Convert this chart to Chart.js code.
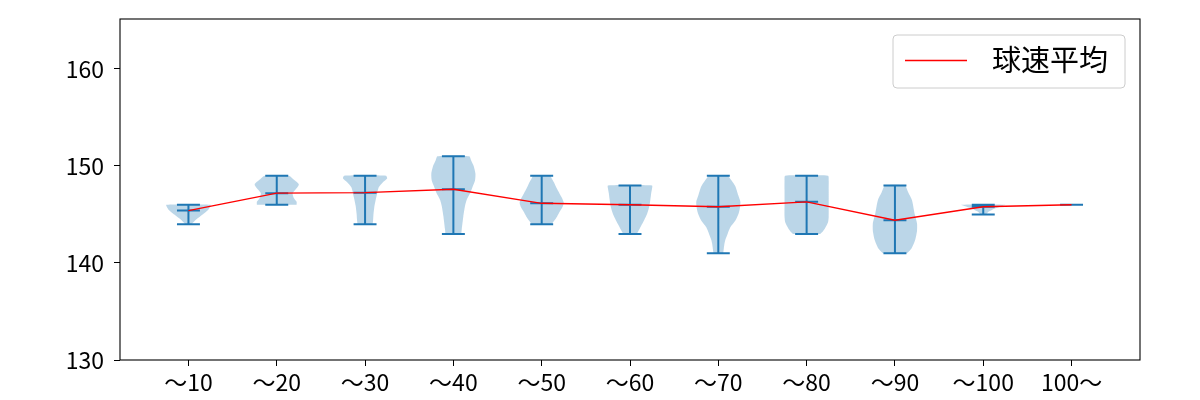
<!DOCTYPE html>
<html>
<head>
<meta charset="utf-8">
<script src="https://cdn.jsdelivr.net/npm/chart.js@4.4.1/dist/chart.umd.min.js"></script>
<style>
  html, body { margin: 0; padding: 0; background: #fff; }
  #wrap { width: 1200px; height: 400px; }
</style>
</head>
<body>
<div id="wrap"><canvas id="violinChart" width="1200" height="400"></canvas></div>
<script>
// ---data---
const categories = ['～10', '～20', '～30', '～40', '～50', '～60', '～70', '～80', '～90', '～100', '100～'];
const positions = [1, 2, 3, 4, 5, 6, 7, 8, 9, 10, 11];
const meanSpeed = [145.4, 147.2, 147.25, 147.6, 146.15, 146.0, 145.8, 146.3, 144.4, 145.8, 146.0];
const minSpeed = [144, 146, 144, 143, 144, 143, 141, 143, 141, 145, 146];
const maxSpeed = [146, 149, 149, 151, 149, 148, 149, 149, 148, 146, 146];
const yTicks = [130, 140, 150, 160];

// violin outlines: speed levels and relative density (1 = widest)
const violinLevels = [
  [144, 144.5, 145, 145.5, 146],
  [146, 146.3, 146.7, 147.2, 147.6, 148.1, 148.6, 149],
  [144, 144.3, 145, 145.8, 146.5, 147.2, 147.8, 148.3, 148.7, 149],
  [143, 143.5, 144.8, 145.8, 146.5, 147.3, 147.9, 148.5, 149.2, 150, 150.6, 151],
  [144, 144.3, 144.8, 145.3, 145.8, 146.2, 146.7, 147.2, 147.7, 148.2, 148.6, 149],
  [143, 143.2, 143.8, 144.4, 145.1, 145.8, 146.5, 147.2, 147.7, 148],
  [141, 141.5, 142, 142.4, 143, 143.7, 144.4, 145.1, 145.7, 146.3, 147, 147.9, 148.5, 149],
  [143, 143.3, 143.6, 144.2, 144.8, 146, 147.5, 148.5, 149],
  [141, 141.5, 142.4, 143.3, 144.1, 145, 146.5, 147.3, 148],
  [145, 145.3, 145.6, 145.8, 146],
  []
];
const violinDensity = [
  [0.14, 0.36, 0.64, 0.9, 1.0],
  [0.9, 0.9, 0.77, 0.72, 0.86, 1.0, 0.77, 0.55],
  [0.34, 0.36, 0.38, 0.42, 0.48, 0.55, 0.62, 0.8, 1.0, 0.95],
  [0.36, 0.38, 0.45, 0.52, 0.6, 0.78, 0.88, 0.98, 1.0, 0.92, 0.8, 0.72],
  [0.45, 0.55, 0.7, 0.82, 0.95, 1.0, 0.92, 0.8, 0.68, 0.58, 0.48, 0.38],
  [0.28, 0.36, 0.5, 0.64, 0.78, 0.87, 0.92, 0.96, 1.0, 1.0],
  [0.22, 0.25, 0.28, 0.32, 0.42, 0.55, 0.78, 0.92, 0.98, 1.0, 0.9, 0.77, 0.6, 0.42],
  [0.62, 0.75, 0.84, 0.97, 1.0, 1.0, 1.0, 1.0, 0.97],
  [0.55, 0.75, 0.92, 1.0, 1.0, 0.9, 0.77, 0.6, 0.45],
  [0.12, 0.25, 0.5, 0.75, 1.0],
  []
];

const HALF_WIDTH = 0.25;
const CAP = 0.13;
const BLUE = '#1f77b4';

Chart.defaults.font.family = '"Noto Sans CJK JP", "Noto Sans", sans-serif';
Chart.defaults.color = '#000';

// bodies
const violinSets = violinLevels.map((levels, i) => {
  const p = positions[i];
  const right = levels.map((v, j) => ({x: p + violinDensity[i][j] * HALF_WIDTH, y: v}));
  const left = levels.map((v, j) => ({x: p - violinDensity[i][j] * HALF_WIDTH, y: v})).reverse();
  return {
    label: 'body' + i,
    data: right.concat(left),
    backgroundColor: 'rgba(31,119,180,0.3)',
    borderWidth: 0,
    pointRadius: 0,
    fill: 'shape',
    tension: 0.2,
    order: 3
  };
});

// min/max bars and mean caps
const barPoints = [];
positions.forEach((p, i) => {
  barPoints.push({x: p, y: minSpeed[i]}, {x: p, y: maxSpeed[i]}, {x: p, y: null});
  [minSpeed[i], maxSpeed[i], meanSpeed[i]].forEach(v => {
    barPoints.push({x: p - CAP, y: v}, {x: p + CAP, y: v}, {x: p, y: null});
  });
});

const frameAndLegend = {
  id: 'frameAndLegend',
  afterDatasetsDraw(chart) {
    const {ctx, chartArea: a} = chart;
    ctx.save();
    ctx.strokeStyle = '#000';
    ctx.lineWidth = 1.1;
    ctx.strokeRect(a.left, a.top, a.right - a.left, a.bottom - a.top);

    // legend box
    const bw = 232, bh = 53;
    const bx = a.right - 15 - bw, by = a.top + 16;
    ctx.beginPath();
    ctx.roundRect(bx, by, bw, bh, 4);
    ctx.fillStyle = 'rgba(255,255,255,0.8)';
    ctx.fill();
    ctx.strokeStyle = '#cccccc';
    ctx.lineWidth = 1;
    ctx.stroke();
    ctx.beginPath();
    ctx.moveTo(bx + 12, by + 25.5);
    ctx.lineTo(bx + 74, by + 25.5);
    ctx.strokeStyle = 'red';
    ctx.lineWidth = 1.4;
    ctx.stroke();
    ctx.fillStyle = '#000';
    ctx.font = '29px "Noto Sans CJK JP"';
    ctx.textBaseline = 'middle';
    ctx.fillText(chart.data.datasets[0].label, bx + 99, by + 25);
    ctx.restore();
  }
};

const vCHART = document.getElementById('violinChart');
let violinChart = new Chart(vCHART, {
  type: 'line',
  data: {
    datasets: [
      {
        label: '球速平均',
        data: positions.map((p, i) => ({x: p, y: meanSpeed[i]})),
        borderColor: 'red',
        borderWidth: 1.4,
        pointRadius: 0,
        fill: false,
        order: 1
      },
      {
        label: 'bars',
        data: barPoints,
        borderColor: BLUE,
        borderWidth: 2,
        pointRadius: 0,
        fill: false,
        spanGaps: false,
        order: 2
      }
    ].concat(violinSets)
  },
  options: {
    responsive: false,
    animation: false,
    layout: { padding: { left: 0, top: 19, right: 60, bottom: 0 } },
    plugins: { legend: { display: false }, tooltip: { enabled: false } },
    scales: {
      x: {
        type: 'linear',
        min: 0.225,
        max: 11.775,
        afterBuildTicks: s => { s.ticks = positions.map(v => ({value: v})); },
        afterFit: s => { s.height = 40; s.paddingLeft = 0; s.paddingRight = 0; },
        ticks: {
          font: { size: 23 },
          padding: 2,
          maxRotation: 0,
          autoSkip: false,
          callback: v => categories[v - 1]
        },
        grid: { drawOnChartArea: false, tickLength: 6, color: '#000' },
        border: { display: false }
      },
      y: {
        min: 130,
        max: 165.15,
        afterBuildTicks: s => { s.ticks = yTicks.map(v => ({value: v})); },
        afterFit: s => { s.width = 120; s.paddingTop = 0; s.paddingBottom = 0; },
        ticks: { font: { size: 23 }, padding: 10 },
        grid: { drawOnChartArea: false, tickLength: 6, color: '#000' },
        border: { display: false }
      }
    }
  },
  plugins: [frameAndLegend]
});
</script>
</body>
</html>
